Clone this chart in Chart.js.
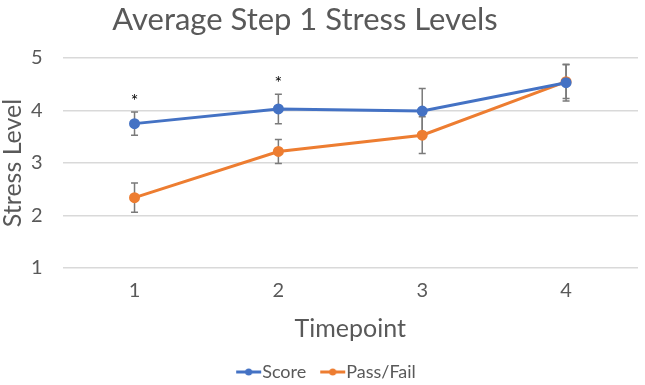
<!DOCTYPE html>
<html>
<head>
<meta charset="utf-8">
<script src="https://cdn.jsdelivr.net/npm/chart.js@4"></script>
<style>
  html, body { margin: 0; padding: 0; background: #fff; }
  #wrap { width: 645px; height: 385px; }
</style>
</head>
<body>
<div id="wrap"><canvas id="stress-chart"></canvas></div>
<script>
const chartTitle = "Average Step 1 Stress Levels";
const timepoints = ["1", "2", "3", "4"];
const scoreMeans = [3.75, 4.03, 3.99, 4.53];
const scoreErr = [0.22, 0.28, 0.43, 0.35];
const passFailMeans = [2.34, 3.22, 3.53, 4.55];
const passFailErr = [0.28, 0.23, 0.35, 0.32];
const scoreSig = ["*", "*", "", ""];

const textColor = "#595959";
const fontFamily = "Lato, 'Open Sans', sans-serif";

// legend marker: short line with a dot, pushed to the right so it touches the text
function legendMarker(color) {
  const c = document.createElement("canvas");
  c.width = 44;
  c.height = 8;
  const g = c.getContext("2d");
  g.strokeStyle = color;
  g.lineWidth = 3;
  g.beginPath();
  g.moveTo(18, 4);
  g.lineTo(43, 4);
  g.stroke();
  g.fillStyle = color;
  g.beginPath();
  g.arc(30.5, 4, 3.5, 0, Math.PI * 2);
  g.fill();
  return c;
}

// title drawn by hand so it can sit a little left of centre, like the original
const titlePlugin = {
  id: "sideTitle",
  afterDraw(chart) {
    const ctx = chart.ctx;
    ctx.save();
    ctx.fillStyle = textColor;
    ctx.font = "31px " + fontFamily;
    ctx.textAlign = "center";
    ctx.textBaseline = "middle";
    ctx.fillText(chartTitle, 305, 20);
    ctx.restore();
  }
};

const errorBars = {
  id: "errorBars",
  beforeDatasetsDraw(chart) {
    const ctx = chart.ctx;
    const y = chart.scales.y;
    ctx.save();
    ctx.strokeStyle = "#7a7a7a";
    ctx.lineWidth = 1.5;
    chart.data.datasets.forEach((ds, i) => {
      const meta = chart.getDatasetMeta(i);
      meta.data.forEach((pt, j) => {
        const top = y.getPixelForValue(ds.data[j] + ds.err[j]);
        const bot = y.getPixelForValue(ds.data[j] - ds.err[j]);
        ctx.beginPath();
        ctx.moveTo(pt.x, top);
        ctx.lineTo(pt.x, bot);
        ctx.moveTo(pt.x - 3.5, top);
        ctx.lineTo(pt.x + 3.5, top);
        ctx.moveTo(pt.x - 3.5, bot);
        ctx.lineTo(pt.x + 3.5, bot);
        ctx.stroke();
      });
    });
    ctx.restore();
  },
  afterDatasetsDraw(chart) {
    const ctx = chart.ctx;
    const y = chart.scales.y;
    const meta = chart.getDatasetMeta(0);
    ctx.save();
    ctx.fillStyle = "#000";
    ctx.font = "18px " + fontFamily;
    ctx.textAlign = "center";
    ctx.textBaseline = "middle";
    scoreSig.forEach((s, j) => {
      if (!s) return;
      const top = y.getPixelForValue(scoreMeans[j] + scoreErr[j]);
      ctx.fillText(s, meta.data[j].x, top - 11);
    });
    ctx.restore();
  }
};

new Chart(document.getElementById("stress-chart"), {
  type: "line",
  data: {
    labels: timepoints,
    datasets: [
      {
        label: "Score",
        data: scoreMeans,
        err: scoreErr,
        borderColor: "#4472C4",
        backgroundColor: "#4472C4",
        borderWidth: 3,
        pointRadius: 4,
        pointStyle: "circle",
      },
      {
        label: "Pass/Fail",
        data: passFailMeans,
        err: passFailErr,
        borderColor: "#ED7D31",
        backgroundColor: "#ED7D31",
        borderWidth: 3,
        pointRadius: 4,
        pointStyle: "circle",
      },
    ],
  },
  options: {
    responsive: true,
    maintainAspectRatio: false,
    animation: false,
    layout: { padding: { left: 0, right: 2, top: 58, bottom: -6 } },
    plugins: {
      title: { display: false },
      legend: {
        position: "bottom",
        labels: {
          usePointStyle: true,
          pointStyleWidth: 26,
          color: textColor,
          font: { family: fontFamily, size: 18 },
          boxWidth: 26,
          padding: 5,
          generateLabels(chart) {
            return chart.data.datasets.map((ds, i) => ({
              text: ds.label,
              pointStyle: legendMarker(ds.borderColor),
              fontColor: textColor,
              strokeStyle: ds.borderColor,
              fillStyle: ds.borderColor,
              lineWidth: 0,
              datasetIndex: i,
              hidden: false,
            }));
          },
        },
      },
      tooltip: { enabled: false },
    },
    scales: {
      x: {
        offset: true,
        grid: { display: false },
        border: { display: false },
        ticks: {
          color: textColor,
          font: { family: fontFamily, size: 20 },
          padding: 3,
        },
        title: {
          display: true,
          text: "Timepoint",
          color: textColor,
          font: { family: fontFamily, size: 25 },
          padding: { top: 8, bottom: 14 },
        },
      },
      y: {
        min: 1,
        max: 5,
        ticks: {
          stepSize: 1,
          color: textColor,
          font: { family: fontFamily, size: 20 },
          padding: 6,
        },
        grid: {
          color: "#d9d9d9",
          lineWidth: 1.5,
          drawTicks: true,
          tickLength: 14,
          tickColor: "rgba(0,0,0,0)",
        },
        border: { display: false },
        title: {
          display: true,
          text: "Stress Level",
          color: textColor,
          font: { family: fontFamily, size: 25, lineHeight: 1.0 },
          padding: 0,
        },
      },
    },
  },
  plugins: [errorBars, titlePlugin],
});
</script>
</body>
</html>
